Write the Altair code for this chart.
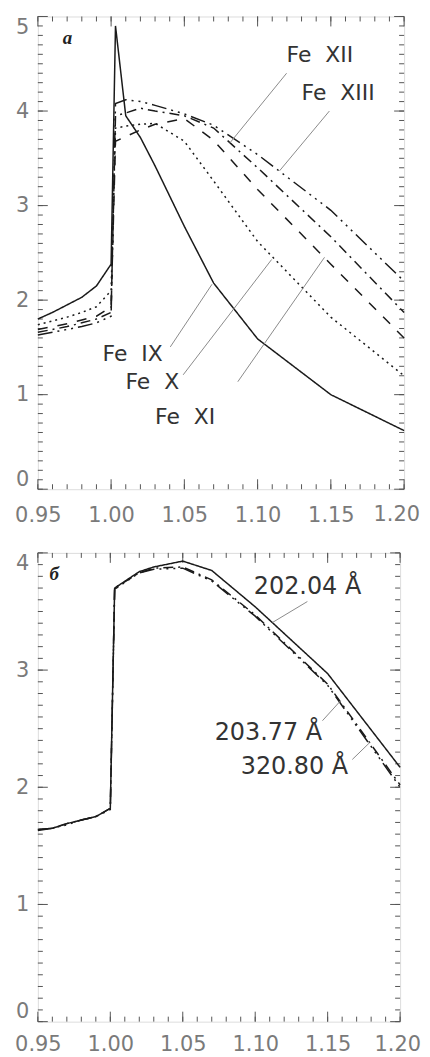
import altair as alt
import pandas as pd

# ---------------- Panel a data ----------------
xa = [0.95, 0.96, 0.97, 0.98, 0.99, 1.00, 1.003, 1.01, 1.02, 1.03, 1.05, 1.07, 1.10, 1.15, 1.20]
fe9 = [1.80, 1.87, 1.95, 2.03, 2.15, 2.38, 4.90, 3.95, 3.72, 3.42, 2.78, 2.18, 1.59, 1.00, 0.62]
fe10 = [1.74, 1.78, 1.82, 1.87, 1.93, 2.10, 3.82, 3.84, 3.86, 3.87, 3.68, 3.26, 2.62, 1.82, 1.20]
fe11 = [1.69, 1.72, 1.75, 1.79, 1.83, 1.93, 3.68, 3.73, 3.80, 3.86, 3.92, 3.69, 3.17, 2.38, 1.60]
fe12 = [1.66, 1.69, 1.72, 1.76, 1.80, 1.87, 3.95, 3.98, 4.03, 4.00, 3.95, 3.82, 3.40, 2.67, 1.87]
fe13 = [1.63, 1.66, 1.69, 1.72, 1.76, 1.83, 4.08, 4.12, 4.10, 4.06, 3.97, 3.85, 3.54, 2.95, 2.20]
names_a = ["Fe IX", "Fe X", "Fe XI", "Fe XII", "Fe XIII"]
vals_a = [fe9, fe10, fe11, fe12, fe13]

# ---------------- Panel b data ----------------
xb = [0.95, 0.96, 0.97, 0.98, 0.99, 1.00, 1.003, 1.02, 1.03, 1.05, 1.07, 1.10, 1.15, 1.20]
l202 = [1.64, 1.65, 1.69, 1.72, 1.75, 1.82, 3.70, 3.84, 3.88, 3.93, 3.85, 3.54, 2.97, 2.17]
l203 = [1.64, 1.65, 1.69, 1.72, 1.75, 1.82, 3.70, 3.83, 3.87, 3.88, 3.77, 3.47, 2.88, 2.02]
l320 = [1.63, 1.65, 1.68, 1.72, 1.75, 1.81, 3.69, 3.83, 3.86, 3.87, 3.76, 3.46, 2.87, 2.00]
names_b = ["202.04", "203.77", "320.80"]
vals_b = [l202, l203, l320]

# tick values / labels
x_major = [0.95, 1.00, 1.05, 1.10, 1.15, 1.20]
x_last_label = ["1.20"]
x_minor = [round(0.95 + 0.01 * i, 2) for i in range(26)]
ya_major = [0, 1, 2, 3, 4, 5]
ya_minor = [round(0.1 * i, 1) for i in range(51)]
yb_major = [0, 1, 2, 3, 4]
yb_minor = [round(0.1 * i, 1) for i in range(41)]

# annotations (data coordinates)
lab_a = pd.DataFrame({
    "t": ["Fe\u00a0\u00a0XII", "Fe\u00a0\u00a0XIII", "Fe\u00a0\u00a0IX", "Fe\u00a0\u00a0X", "Fe\u00a0\u00a0XI"],
    "x": [1.1198, 1.130, 0.9942, 1.0098, 1.030],
    "y": [4.59, 4.19, 1.43, 1.137, 0.768],
})
ptr_a = pd.DataFrame({
    "x": [1.0404, 1.0492, 1.0865, 1.1198, 1.149],
    "y": [1.505, 1.21, 1.137, 4.40, 4.00],
    "x2": [1.0689, 1.1096, 1.1457, 1.0811, 1.115],
    "y2": [2.168, 2.43, 2.453, 3.663, 3.368],
})
lab_b = pd.DataFrame({
    "t": ["202.04\u00a0\u00c5", "203.77\u00a0\u00c5", "320.80\u00a0\u00c5"],
    "x": [1.099, 1.072, 1.090],
    "y": [3.71, 2.466, 2.17],
})
ptr_b = pd.DataFrame({
    "x": [1.136, 1.1464, 1.167],
    "y": [3.585, 2.568, 2.237],
    "x2": [1.112, 1.1588, 1.179],
    "y2": [3.407, 2.737, 2.381],
})

dashes = {
    "solid": [1, 0],
    "dot": [2, 4],
    "dash": [10, 10],
    "dashdot": [10, 5, 2, 5],
    "dash3dot": [15, 5, 2, 5, 2, 5, 2, 5],
}
styles_a = ["solid", "dot", "dash", "dashdot", "dash3dot"]
styles_b = ["solid", "dashdot", "dash3dot"]

LINE = "#1a1a1a"
FRAME = "#555555"
LABEL = "#7a7a7a"
FONT = "DejaVu Sans"
TICKFS = 21


def panel(xs, names, vals, styles, ymax, y_major, y_minor, W, H, labs, ptrs, letter,
          letter_xy, xpad, txt_size, last_dx):
    xe = alt.X("x:Q", scale=alt.Scale(domain=[0.95, 1.2], nice=False, zero=False),
               axis=alt.Axis(values=x_major[:-1], format=".2f", ticks=False, domain=False,
                             grid=False, labelFontSize=TICKFS, labelColor=LABEL, labelFont=FONT,
                             labelPadding=xpad, labelFlush=False, labelOverlap=False,
                             labelBaseline="top", title=None))
    ye = alt.Y("y:Q", scale=alt.Scale(domain=[0, ymax], nice=False, zero=False),
               axis=alt.Axis(values=y_major, format="d", ticks=False, domain=False, grid=False,
                             labelFontSize=TICKFS, labelColor=LABEL, labelFont=FONT,
                             labelPadding=9, labelFlush=True, title=None))
    layers = []

    def xt(vals_, length):
        d = pd.DataFrame({"x": vals_})
        b = alt.Chart(d).mark_rule(color=FRAME, strokeWidth=1).encode(
            x=xe, y=alt.value(H), y2=alt.value(H - length))
        t = alt.Chart(d).mark_rule(color=FRAME, strokeWidth=1).encode(
            x=xe, y=alt.value(0), y2=alt.value(length))
        return [b, t]

    def yt(vals_, length):
        d = pd.DataFrame({"y": vals_})
        l = alt.Chart(d).mark_rule(color=FRAME, strokeWidth=1).encode(
            y=ye, x=alt.value(0), x2=alt.value(length))
        r = alt.Chart(d).mark_rule(color=FRAME, strokeWidth=1).encode(
            y=ye, x=alt.value(W), x2=alt.value(W - length))
        return [l, r]

    layers += xt(x_minor, 5) + xt(x_major, 10) + yt(y_minor, 5) + yt(y_major, 10)

    # last x tick label, kept inside the page
    dl = pd.DataFrame({"x": [x_major[-1]], "t": x_last_label})
    layers.append(alt.Chart(dl).mark_text(align="right", baseline="top", fontSize=TICKFS,
                                          font=FONT, color=LABEL, dx=last_dx).encode(
        x=xe, y=alt.value(H + xpad), text="t:N"))

    for n, v, s in zip(names, vals, styles):
        d = pd.DataFrame({"x": xs, "y": v})
        layers.append(alt.Chart(d).mark_line(color=LINE, strokeWidth=1.5,
                                             strokeDash=dashes[s]).encode(x=xe, y=ye))
    layers.append(alt.Chart(ptrs).mark_rule(color="#8a8a8a", strokeWidth=1).encode(
        x=xe, y=ye, x2="x2:Q", y2="y2:Q"))
    layers.append(alt.Chart(labs).mark_text(align="left", baseline="middle", fontSize=txt_size,
                                            font=FONT, color="#333333").encode(
        x=xe, y=ye, text="t:N"))
    ld = pd.DataFrame({"x": [letter_xy[0]], "y": [letter_xy[1]], "t": [letter]})
    layers.append(alt.Chart(ld).mark_text(align="left", baseline="middle", fontSize=19,
                                          font="Liberation Serif", fontStyle="italic",
                                          fontWeight="bold", color="#222222").encode(
        x=xe, y=ye, text="t:N"))
    return alt.layer(*layers).properties(width=W, height=H)


top = panel(xa, names_a, vals_a, styles_a, 5, ya_major, ya_minor, 368, 475,
            lab_a, ptr_a, "a", (0.967, 4.77), 15, 22, 16)
bottom = panel(xb, names_b, vals_b, styles_b, 4, yb_major, yb_minor, 364, 471,
               lab_b, ptr_b, "\u0431", (0.958, 3.82), 12, 24, 21)

chart = alt.vconcat(top, bottom, spacing=26).properties(
    padding={"left": 6, "top": 5, "right": 0, "bottom": 0}
).configure_view(stroke=FRAME, strokeWidth=1.2).configure(background="white")

chart.save("out.html", embed_options={"renderer": "svg", "actions": False})
